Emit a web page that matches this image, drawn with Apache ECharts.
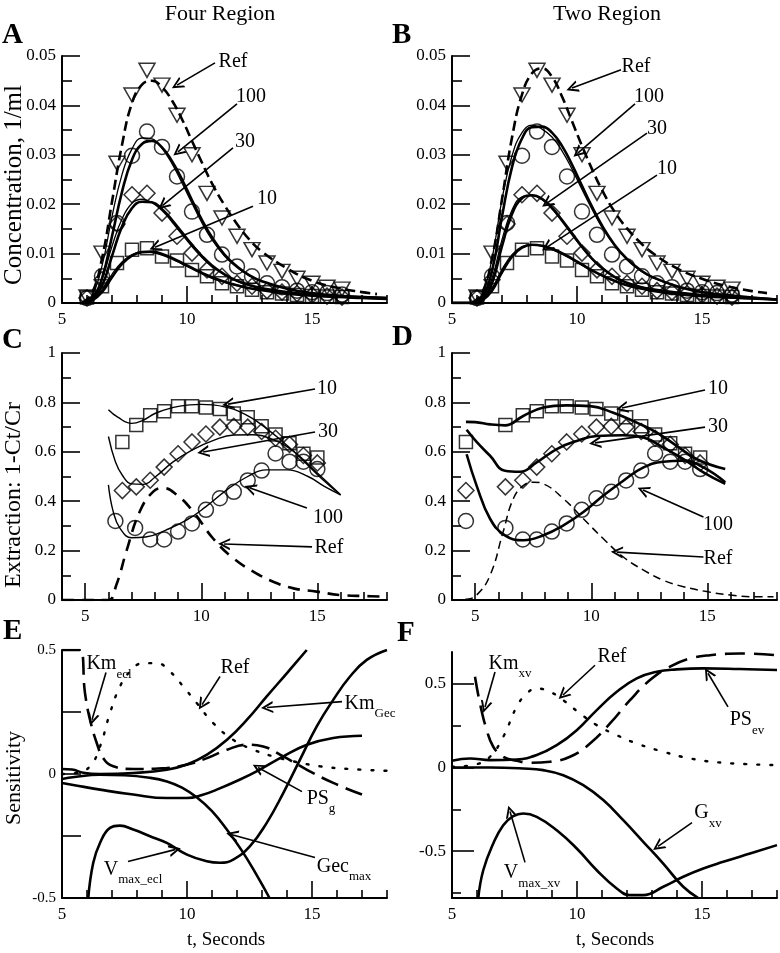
<!DOCTYPE html>
<html><head><meta charset="utf-8">
<script src="https://cdn.jsdelivr.net/npm/echarts@6/dist/echarts.min.js"></script>
<style>html,body{margin:0;padding:0;background:#fff}#c{width:780px;height:953px}</style>
</head><body><div id="c"></div>
<script>
// ===================== DATA =====================
// Panels A/B: measured concentrations (open markers)
const markerTimeAB = [6.0, 6.6, 7.2, 7.8, 8.4, 9.0, 9.6, 10.2, 10.8, 11.4, 12.0, 12.6, 13.2, 13.8, 14.4, 15.0, 15.6, 16.2];
const concRef = [0.0012, 0.0101, 0.0283, 0.0421, 0.0471, 0.0441, 0.038, 0.030, 0.0222, 0.0172, 0.0135, 0.0108, 0.0081, 0.0064, 0.005, 0.004, 0.0032, 0.0028];
const conc100 = [0.001, 0.0054, 0.0162, 0.0298, 0.0347, 0.0316, 0.0256, 0.0185, 0.0138, 0.0098, 0.0074, 0.0054, 0.004, 0.0032, 0.0025, 0.0022, 0.002, 0.0017];
const conc30 = [0.001, 0.0047, 0.016, 0.0219, 0.0222, 0.0182, 0.0135, 0.0101, 0.0067, 0.0054, 0.004, 0.0034, 0.0025, 0.0022, 0.0019, 0.0016, 0.0014, 0.0012];
const conc10 = [0.0011, 0.0034, 0.0081, 0.0108, 0.0111, 0.0094, 0.0086, 0.0067, 0.0054, 0.004, 0.0034, 0.0027, 0.0022, 0.0019, 0.0016, 0.0014, 0.0013, 0.0012];

// Panel A model curves (Four Region)
const tA = [5.8, 6.2, 6.6, 7.0, 7.4, 7.8, 8.2, 8.6, 9.0, 9.4, 9.8, 10.2, 10.6, 11.0, 11.5, 12.0, 12.5, 13.0, 14.0, 15.0, 16.0, 17.0, 18.0];
const tARef = [5.8, 6.2, 6.6, 7.0, 7.4, 7.8, 8.2, 8.6, 9.0, 9.4, 9.8, 10.2, 10.6, 11.0, 11.5, 12.0, 12.5, 13.0, 14.0, 15.0, 16.0, 17.0, 17.6];
const aRef = [0, 0.002, 0.009, 0.0205, 0.032, 0.0405, 0.0442, 0.045, 0.0437, 0.041, 0.0372, 0.0328, 0.0284, 0.0242, 0.0198, 0.016, 0.0128, 0.0104, 0.007, 0.0045, 0.0031, 0.0022, 0.0018];
const a100thick = [0, 0.001, 0.005, 0.0135, 0.0225, 0.029, 0.0322, 0.0328, 0.0315, 0.0287, 0.025, 0.0208, 0.0168, 0.0133, 0.0098, 0.0074, 0.0056, 0.0044, 0.0029, 0.002, 0.0015, 0.0012, 0.001];
const a100thin = [0, 0.0015, 0.0075, 0.0175, 0.026, 0.0312, 0.0334, 0.0332, 0.0313, 0.0282, 0.0243, 0.0202, 0.0162, 0.0128, 0.0095, 0.0072, 0.0055, 0.0043, 0.0029, 0.002, 0.0015, 0.0012, 0.001];
const a30thick = [0, 0.0008, 0.0035, 0.0095, 0.0155, 0.0192, 0.0205, 0.0204, 0.019, 0.0168, 0.0143, 0.0118, 0.0095, 0.0076, 0.0058, 0.0045, 0.0036, 0.003, 0.0022, 0.0017, 0.0014, 0.0012, 0.001];
const a30thin = [0, 0.001, 0.0048, 0.0115, 0.017, 0.0202, 0.021, 0.0203, 0.0187, 0.0164, 0.0139, 0.0114, 0.0092, 0.0074, 0.0057, 0.0044, 0.0036, 0.003, 0.0022, 0.0017, 0.0014, 0.0012, 0.001];
const a10thick = [0, 0.0005, 0.0022, 0.0052, 0.0079, 0.0096, 0.0103, 0.0104, 0.0099, 0.0091, 0.0081, 0.0071, 0.0061, 0.0052, 0.0043, 0.0036, 0.003, 0.0026, 0.0019, 0.0015, 0.0012, 0.001, 0.0008];
const a10thin = [0, 0.0006, 0.0027, 0.0058, 0.0083, 0.0098, 0.0104, 0.0102, 0.0097, 0.0089, 0.0079, 0.0069, 0.0059, 0.005, 0.0042, 0.0035, 0.003, 0.0026, 0.0019, 0.0015, 0.0012, 0.001, 0.0008];

// Panel B model curves (Two Region)
const tB = [5.0, 5.8, 6.2, 6.6, 7.0, 7.4, 7.8, 8.2, 8.6, 9.0, 9.4, 9.8, 10.2, 10.6, 11.0, 11.5, 12.0, 12.5, 13.0, 14.0, 15.0, 16.0, 17.0, 18.0];
const tBRef = [5.8, 6.2, 6.6, 7.0, 7.4, 7.8, 8.2, 8.6, 9.0, 9.4, 9.8, 10.2, 10.6, 11.0, 11.5, 12.0, 12.5, 13.0, 14.0, 15.0, 16.0, 17.0, 17.6];
const bRef = [0, 0.002, 0.009, 0.021, 0.0335, 0.0422, 0.0465, 0.0475, 0.0458, 0.0418, 0.0368, 0.0318, 0.0271, 0.0229, 0.0185, 0.0151, 0.0124, 0.0102, 0.007, 0.0049, 0.0034, 0.0024, 0.002];
const b100thick = [0, 0, 0.0012, 0.0065, 0.0175, 0.0275, 0.0333, 0.0356, 0.0357, 0.0345, 0.0318, 0.028, 0.0237, 0.0195, 0.0157, 0.0118, 0.0089, 0.0068, 0.0053, 0.0034, 0.0022, 0.0016, 0.0011, 0.0007];
const b100thin = [0, 0, 0.0018, 0.009, 0.021, 0.0298, 0.0345, 0.036, 0.0352, 0.0336, 0.0308, 0.0271, 0.023, 0.019, 0.0153, 0.0116, 0.0088, 0.0067, 0.0052, 0.0034, 0.0022, 0.0016, 0.0011, 0.0007];
const b30thick = [0, 0, 0.0008, 0.004, 0.0115, 0.018, 0.0212, 0.0218, 0.0211, 0.0193, 0.0168, 0.0141, 0.0114, 0.009, 0.0071, 0.0053, 0.0041, 0.0033, 0.0028, 0.0021, 0.0016, 0.0013, 0.001, 0.0007];
const b30thin = [0, 0, 0.001, 0.005, 0.0128, 0.0188, 0.0215, 0.0218, 0.0209, 0.019, 0.0165, 0.0138, 0.0112, 0.0089, 0.007, 0.0052, 0.004, 0.0033, 0.0028, 0.0021, 0.0016, 0.0013, 0.001, 0.0007];
const b10thick = [0, 0, 0.0005, 0.0025, 0.0062, 0.0094, 0.0112, 0.0118, 0.0116, 0.011, 0.0101, 0.009, 0.0078, 0.0066, 0.0056, 0.0045, 0.0036, 0.003, 0.0025, 0.0018, 0.0014, 0.0011, 0.0009, 0.0007];
const b10thin = [0, 0, 0.0006, 0.003, 0.0068, 0.0098, 0.0114, 0.0118, 0.0115, 0.0108, 0.0099, 0.0088, 0.0076, 0.0065, 0.0055, 0.0044, 0.0036, 0.003, 0.0025, 0.0018, 0.0014, 0.0011, 0.0009, 0.0007];

// Panels C/D: extraction (open markers)
const markerTimeC = [6.6, 7.2, 7.8, 8.4, 9.0, 9.6, 10.2, 10.8, 11.4, 12.0, 12.6, 13.2, 13.8, 14.4, 15.0];
const circleTimeC = [6.3, 7.15, 7.8, 8.4, 9.0, 9.6, 10.2, 10.8, 11.4, 12.0, 12.6, 13.2, 13.8, 14.4, 15.0];
const markerTimeD = [4.6, 6.3, 7.05, 7.65, 8.3, 8.94, 9.59, 10.22, 10.86, 11.5, 12.15, 12.75, 13.4, 14.04, 14.69];
const extr10 = [0.64, 0.708, 0.748, 0.764, 0.784, 0.784, 0.779, 0.773, 0.755, 0.74, 0.703, 0.67, 0.635, 0.592, 0.577];
const extr30 = [0.443, 0.458, 0.485, 0.538, 0.592, 0.64, 0.672, 0.70, 0.703, 0.70, 0.682, 0.655, 0.63, 0.585, 0.555];
const extr100 = [0.32, 0.292, 0.245, 0.245, 0.277, 0.31, 0.365, 0.412, 0.438, 0.484, 0.524, 0.593, 0.56, 0.56, 0.53];

// Panel C curves
const tC10 = [6.0, 6.4, 7.0, 7.5, 8.0, 8.8, 9.5, 10.0, 10.5, 11.1, 11.6, 12.2, 12.8, 13.4, 14.0, 14.6, 15.2, 16.0];
const c10 = [0.77, 0.74, 0.715, 0.728, 0.755, 0.78, 0.79, 0.792, 0.79, 0.78, 0.765, 0.735, 0.695, 0.65, 0.6, 0.545, 0.49, 0.425];
const tC30 = [6.0, 6.3, 6.6, 7.0, 7.5, 8.0, 8.8, 9.6, 10.5, 11.4, 12.2, 13.1, 14.0, 15.0, 16.0];
const c30 = [0.662, 0.56, 0.505, 0.47, 0.468, 0.497, 0.56, 0.607, 0.645, 0.668, 0.669, 0.649, 0.6, 0.514, 0.426];
const tC100 = [6.0, 6.2, 6.5, 7.0, 7.6, 8.5, 9.4, 10.2, 11.1, 12.0, 12.8, 13.7, 14.6, 15.3, 16.0];
const c100 = [0.466, 0.36, 0.29, 0.252, 0.255, 0.284, 0.325, 0.378, 0.446, 0.5, 0.527, 0.527, 0.5, 0.46, 0.426];
const tCRef = [4.0, 5.0, 6.0, 6.34, 6.77, 7.35, 7.93, 8.36, 8.94, 9.65, 10.5, 11.38, 12.24, 13.1, 13.97, 14.97, 16.0, 17.1, 18.0];
const cRef = [0, 0, 0, 0.061, 0.196, 0.358, 0.439, 0.453, 0.426, 0.358, 0.25, 0.169, 0.115, 0.074, 0.047, 0.034, 0.02, 0.016, 0.0135];

// Panel D curves
const tD10 = [4.6, 5.0, 5.64, 6.28, 7.07, 7.94, 8.94, 9.95, 10.95, 11.96, 12.82, 13.68, 14.55, 15.77];
const d10 = [0.721, 0.72, 0.711, 0.707, 0.745, 0.779, 0.788, 0.785, 0.758, 0.718, 0.678, 0.624, 0.57, 0.53];
const tD30 = [4.63, 5.06, 5.64, 6.28, 6.93, 7.65, 8.51, 9.37, 10.24, 11.38, 12.25, 13.1, 13.97, 14.83, 15.77];
const d30 = [0.689, 0.64, 0.584, 0.523, 0.519, 0.557, 0.611, 0.644, 0.664, 0.667, 0.658, 0.617, 0.57, 0.517, 0.47];
const tD100 = [4.63, 5.06, 5.64, 6.28, 7.07, 7.94, 8.8, 9.66, 10.52, 11.38, 12.25, 13.1, 13.97, 14.83, 15.77];
const d100 = [0.59, 0.463, 0.329, 0.262, 0.242, 0.262, 0.302, 0.356, 0.423, 0.483, 0.537, 0.56, 0.564, 0.537, 0.477];
const tDRef = [4.0, 4.63, 5.06, 5.64, 6.2, 6.64, 7.07, 7.5, 7.94, 8.8, 9.66, 10.52, 11.38, 12.25, 13.1, 13.97, 14.97, 15.98, 17.13, 17.85];
const dRef = [0, 0.003, 0.02, 0.1, 0.275, 0.41, 0.463, 0.477, 0.47, 0.41, 0.329, 0.248, 0.174, 0.121, 0.08, 0.054, 0.034, 0.02, 0.013, 0.013];

// Panel E sensitivities (Four Region)
const tEKm = [5.0, 5.72, 5.92, 6.12, 6.39, 6.65, 7.05, 7.85, 9.19, 10.0, 10.8, 11.6, 12.4, 13.05, 13.85, 14.8, 15.85, 17.0];
const eKmEcl = [0.5, 0.5, 0.326, 0.219, 0.125, 0.064, 0.031, 0.02, 0.024, 0.038, 0.064, 0.098, 0.118, 0.111, 0.071, 0.017, -0.036, -0.083];
const tERef = [5.0, 5.6, 6.12, 6.52, 6.92, 7.32, 7.72, 8.25, 8.79, 9.32, 9.85, 10.39, 11.05, 11.85, 12.65, 13.45, 14.25, 15.32, 16.52, 18.0];
const eRef = [0.0, 0.005, 0.031, 0.111, 0.246, 0.353, 0.413, 0.447, 0.447, 0.413, 0.353, 0.286, 0.205, 0.138, 0.098, 0.071, 0.051, 0.031, 0.02, 0.013];
const tEKmGec = [5.0, 5.4, 5.85, 6.52, 7.85, 9.19, 10.0, 10.8, 11.6, 12.4, 13.19, 14.0, 14.79];
const eKmGec = [0.02, 0.018, 0.005, 0.0, 0.004, 0.017, 0.038, 0.078, 0.138, 0.219, 0.313, 0.407, 0.5];
const tEPS = [5.0, 5.5, 6.52, 7.85, 9.19, 10.0, 10.6, 11.19, 12.1, 12.9, 13.85, 14.8, 15.85, 17.0];
const ePSg = [-0.036, -0.045, -0.063, -0.083, -0.097, -0.097, -0.085, -0.063, -0.023, 0.017, 0.071, 0.118, 0.145, 0.154];
const tEGec = [5.0, 5.5, 6.5, 7.5, 8.5, 9.2, 9.8, 10.4, 11.0, 11.6, 12.2, 12.8, 13.3];
const eGecMax = [-0.02, -0.012, -0.003, -0.005, -0.015, -0.03, -0.055, -0.095, -0.15, -0.225, -0.31, -0.41, -0.5];
const tEV = [6.05, 6.25, 6.52, 6.92, 7.32, 7.85, 8.52, 9.19, 10.0, 10.79, 11.32, 11.85, 12.52, 13.19, 13.85, 14.52, 15.19, 15.85, 16.52, 17.19, 18.0];
const eVmax = [-0.5, -0.358, -0.278, -0.217, -0.208, -0.224, -0.251, -0.278, -0.325, -0.352, -0.358, -0.345, -0.291, -0.197, -0.077, 0.058, 0.192, 0.299, 0.393, 0.46, 0.5];

// Panel F sensitivities (Two Region)
const tFKm = [5.92, 6.12, 6.39, 6.65, 7.05, 7.59, 8.12, 8.92, 9.72, 10.52, 11.32, 12.12, 12.92, 13.72, 14.52, 15.32, 16.52, 18.0];
const fKmXv = [0.542, 0.382, 0.223, 0.124, 0.064, 0.04, 0.028, 0.034, 0.064, 0.143, 0.263, 0.402, 0.522, 0.602, 0.651, 0.671, 0.681, 0.671];
const tFPS = [5.0, 5.72, 6.52, 7.59, 8.39, 9.19, 9.99, 10.79, 11.59, 12.39, 13.19, 13.99, 15.05, 16.52, 18.0];
const fPSev = [0.04, 0.054, 0.044, 0.048, 0.074, 0.133, 0.223, 0.343, 0.452, 0.532, 0.572, 0.586, 0.592, 0.588, 0.582];
const tFRef = [5.0, 5.99, 6.52, 7.05, 7.59, 7.99, 8.39, 8.92, 9.45, 10.12, 10.79, 11.59, 12.39, 13.45, 14.52, 15.85, 18.0];
const fRef = [0.004, 0.02, 0.064, 0.183, 0.363, 0.442, 0.472, 0.452, 0.402, 0.323, 0.253, 0.193, 0.143, 0.094, 0.054, 0.028, 0.014];
const tFG = [5.0, 6.52, 7.85, 8.65, 9.45, 10.25, 11.05, 11.85, 12.65, 13.45, 14.25, 14.85];
const fGxv = [0, 0, -0.006, -0.016, -0.046, -0.106, -0.195, -0.315, -0.444, -0.574, -0.713, -0.78];
const tFV = [6.05, 6.25, 6.65, 7.05, 7.45, 7.85, 8.39, 9.19, 9.99, 10.79, 11.59, 12.12, 12.65, 13.45, 14.25, 15.05, 15.85, 16.92, 18.0];
const fVmax = [-0.78, -0.614, -0.454, -0.345, -0.291, -0.275, -0.295, -0.375, -0.484, -0.614, -0.723, -0.763, -0.763, -0.713, -0.653, -0.604, -0.564, -0.514, -0.464];

// Tick values / labels
const ticksTimeMajor = [5, 10, 15];
const ticksTimeMinorAB = [6, 7, 8, 9, 11, 12, 13, 14, 16, 17, 18];
const ticksTimeMinorCD = [4, 6, 7, 8, 9, 11, 12, 13, 14, 16, 17, 18];
const ticksConcMajor = [0, 0.01, 0.02, 0.03, 0.04, 0.05];
const ticksConcMinor = [0.005, 0.015, 0.025, 0.035, 0.045];
const ticksExtrMajor = [0, 0.2, 0.4, 0.6, 0.8, 1];
const ticksExtrMinor = [0.1, 0.3, 0.5, 0.7, 0.9];
const ticksSensMajor = [-0.5, 0, 0.5];
const ticksSensMinorE = [-0.25, 0.25];
const ticksSensMinorF = [-0.75, -0.25, 0.25];

// Annotations (label text, label centre, arrow start, arrow tip) in data units
const annA = [
  {label: 'Ref', at: [11.84, 0.0488], from: [11.12, 0.0486], to: [9.6, 0.0441]},
  {label: '100', at: [12.56, 0.0417], from: [12.0, 0.0403], to: [9.64, 0.0306]},
  {label: '30', at: [12.32, 0.0326], from: [11.84, 0.0314], to: [9.04, 0.0198]},
  {label: '10', at: [13.2, 0.0212], from: [12.64, 0.0196], to: [8.72, 0.0113]}
];
const annB = [
  {label: 'Ref', at: [12.36, 0.0478], from: [11.76, 0.0472], to: [9.8, 0.0435]},
  {label: '100', at: [12.88, 0.0417], from: [12.32, 0.0403], to: [10.04, 0.0304]},
  {label: '30', at: [13.2, 0.0352], from: [12.8, 0.0344], to: [8.8, 0.0202]},
  {label: '10', at: [13.6, 0.0271], from: [13.2, 0.0259], to: [8.8, 0.0113]}
];
const annC = [
  {label: '10', at: [15.42, 0.854], from: [14.9, 0.854], to: [11.15, 0.793]},
  {label: '30', at: [15.46, 0.68], from: [14.9, 0.68], to: [10.08, 0.599]},
  {label: '100', at: [15.46, 0.332], from: [14.55, 0.372], to: [12.1, 0.453]},
  {label: 'Ref', at: [15.5, 0.21], from: [14.77, 0.215], to: [10.98, 0.227]}
];
const annD = [
  {label: '10', at: [15.46, 0.854], from: [14.9, 0.85], to: [11.32, 0.777]},
  {label: '30', at: [15.46, 0.7], from: [14.9, 0.7], to: [10.16, 0.636]},
  {label: '100', at: [15.46, 0.304], from: [14.83, 0.336], to: [12.23, 0.445]},
  {label: 'Ref', at: [15.46, 0.166], from: [14.83, 0.174], to: [11.1, 0.194]}
];
const annE = [
  {label: 'Km', sub: 'ecl', at: [6.88, 0.43], from: [6.76, 0.409], to: [6.2, 0.219]},
  {label: 'Ref', at: [11.92, 0.429], from: [11.32, 0.393], to: [10.6, 0.28]},
  {label: 'Km', sub: 'Gec', at: [17.32, 0.27], from: [16.2, 0.292], to: [13.2, 0.268]},
  {label: 'PS', sub: 'g', at: [15.36, -0.113], from: [14.6, -0.071], to: [12.84, 0.026]},
  {label: 'Gec', sub: 'max', at: [16.28, -0.387], from: [15.12, -0.337], to: [11.8, -0.245]},
  {label: 'V', sub: 'max_ecl', at: [7.84, -0.399], from: [7.64, -0.353], to: [9.52, -0.305]}
];
const annF = [
  {label: 'Km', sub: 'xv', at: [7.32, 0.6], from: [6.72, 0.57], to: [6.32, 0.361]},
  {label: 'Ref', at: [11.4, 0.659], from: [10.72, 0.611], to: [9.44, 0.433]},
  {label: 'PS', sub: 'ev', at: [16.8, 0.262], from: [16.04, 0.362], to: [15.24, 0.563]},
  {label: 'G', sub: 'xv', at: [15.24, -0.292], from: [14.6, -0.33], to: [13.24, -0.472]},
  {label: 'V', sub: 'max_xv', at: [8.2, -0.65], from: [7.92, -0.567], to: [7.32, -0.263]}
];

// ===================== CHART =====================
const FONT = 'Liberation Serif';
const BLACK = '#000';
const chart = echarts.init(document.getElementById('c'), null, {renderer: 'canvas'});

const panels = [
  {left: 62, top: 56, width: 325, height: 247, xmin: 5, xmax: 18, ymin: 0, ymax: 0.05,
   xMaj: ticksTimeMajor, xMin: ticksTimeMinorAB, yMaj: ticksConcMajor, yMin: ticksConcMinor, yLen: [18, 10], yFont: 17},
  {left: 452, top: 56, width: 325, height: 247, xmin: 5, xmax: 18, ymin: 0, ymax: 0.05,
   xMaj: ticksTimeMajor, xMin: ticksTimeMinorAB, yMaj: ticksConcMajor, yMin: ticksConcMinor, yLen: [18, 10], yFont: 17},
  {left: 62, top: 353, width: 325, height: 247, xmin: 4, xmax: 18, ymin: 0, ymax: 1,
   xMaj: ticksTimeMajor, xMin: ticksTimeMinorCD, yMaj: ticksExtrMajor, yMin: ticksExtrMinor, yLen: [18, 9], yFont: 17},
  {left: 452, top: 353, width: 325, height: 247, xmin: 4, xmax: 18, ymin: 0, ymax: 1,
   xMaj: ticksTimeMajor, xMin: ticksTimeMinorCD, yMaj: ticksExtrMajor, yMin: ticksExtrMinor, yLen: [18, 9], yFont: 17},
  {left: 62, top: 650, width: 325, height: 248, xmin: 5, xmax: 18, ymin: -0.5, ymax: 0.5,
   xMaj: ticksTimeMajor, xMin: ticksTimeMinorAB, yMaj: ticksSensMajor, yMin: ticksSensMinorE, yLen: [19, 19], yFont: 15},
  {left: 452, top: 652, width: 325, height: 246, xmin: 5, xmax: 18, ymin: -0.78, ymax: 0.69,
   xMaj: ticksTimeMajor, xMin: ticksTimeMinorAB, yMaj: ticksSensMajor, yMin: ticksSensMinorF, yLen: [22, 9], yFont: 17}
];

const grid = [], xAxis = [], yAxis = [];
panels.forEach((p, g) => {
  grid.push({left: p.left, top: p.top, width: p.width, height: p.height, containLabel: false});
  const tickStyle = {color: BLACK, width: 1.6};
  xAxis.push({gridIndex: g, type: 'value', min: p.xmin, max: p.xmax, position: 'bottom',
    axisLine: {show: true, onZero: false, lineStyle: {color: BLACK, width: 2}},
    axisTick: {show: true, inside: true, length: 17, customValues: p.xMaj, lineStyle: tickStyle},
    axisLabel: {show: true, customValues: p.xMaj, margin: 8, color: BLACK, fontFamily: FONT, fontSize: 17},
    splitLine: {show: false}});
  xAxis.push({gridIndex: g, type: 'value', min: p.xmin, max: p.xmax, position: 'bottom',
    axisLine: {show: false, onZero: false},
    axisTick: {show: true, inside: true, length: 8, customValues: p.xMin, lineStyle: tickStyle},
    axisLabel: {show: false}, splitLine: {show: false}});
  yAxis.push({gridIndex: g, type: 'value', min: p.ymin, max: p.ymax, position: 'left',
    axisLine: {show: true, onZero: false, lineStyle: {color: BLACK, width: 2}},
    axisTick: {show: true, inside: true, length: p.yLen[0], customValues: p.yMaj, lineStyle: tickStyle},
    axisLabel: {show: true, customValues: p.yMaj, margin: 6, color: BLACK, fontFamily: FONT, fontSize: p.yFont},
    splitLine: {show: false}});
  yAxis.push({gridIndex: g, type: 'value', min: p.ymin, max: p.ymax, position: 'left',
    axisLine: {show: false, onZero: false},
    axisTick: {show: true, inside: true, length: p.yLen[1], customValues: p.yMin, lineStyle: tickStyle},
    axisLabel: {show: false}, splitLine: {show: false}});
});

const zip = (t, v) => t.map((x, i) => [x, v[i]]);
const series = [];
function line(g, t, v, width, type, extra) {
  const s = {type: 'line', xAxisIndex: 2 * g, yAxisIndex: 2 * g, data: zip(t, v), symbol: 'none',
    smooth: 0.45, silent: true, clip: true,
    lineStyle: Object.assign({color: BLACK, width: width, type: type || 'solid'}, extra || {}), z: 3};
  series.push(s);
  return s;
}
function marks(g, t, v, symbol, size, rotate) {
  series.push({type: 'scatter', xAxisIndex: 2 * g, yAxisIndex: 2 * g, data: zip(t, v), symbol: symbol,
    symbolSize: size, symbolRotate: rotate || 0, silent: true, clip: false,
    itemStyle: {color: 'rgba(0,0,0,0)', borderColor: BLACK, borderWidth: 1.5}, z: 2});
}
const ARROW = 'path://M5,0L10,13L8.2,13L5,4.4L1.8,13L0,13Z';
function annotate(g, ann) {
  series.push({type: 'line', xAxisIndex: 2 * g, yAxisIndex: 2 * g, data: [], silent: true, symbol: 'none',
    markLine: {silent: true, animation: false, symbol: ['none', ARROW], symbolSize: 12,
      itemStyle: {color: BLACK}, label: {show: false},
      lineStyle: {color: BLACK, width: 1.6, type: 'solid'},
      data: ann.map(a => [{coord: a.from}, {coord: a.to}])},
    markPoint: {silent: true, animation: false, symbol: 'circle', symbolSize: 1,
      itemStyle: {color: 'rgba(0,0,0,0)'},
      label: {show: true, position: 'inside', color: BLACK, fontFamily: FONT,
        rich: {m: {fontSize: 20, fontFamily: FONT, color: BLACK, verticalAlign: 'top'},
               s: {fontSize: 13, fontFamily: FONT, color: BLACK, verticalAlign: 'top', padding: [14, 0, 0, 0]}}},
      data: ann.map(a => ({coord: a.at, value: 0,
        label: {formatter: a.sub ? '{m|' + a.label + '}{s|' + a.sub + '}' : '{m|' + a.label + '}'}}))}
  });
}

// Panel A
line(0, tARef, aRef, 2.6, [10, 5]);
line(0, tA, a100thick, 2.6); line(0, tA, a100thin, 1.3);
line(0, tA, a30thick, 2.6); line(0, tA, a30thin, 1.3);
line(0, tA, a10thick, 2.6); line(0, tA, a10thin, 1.3);
marks(0, markerTimeAB, concRef, 'triangle', [16, 14], 180);
marks(0, markerTimeAB, conc100, 'circle', 15);
marks(0, markerTimeAB, conc30, 'diamond', 16);
marks(0, markerTimeAB, conc10, 'rect', 13);
annotate(0, annA);
// Panel B
line(1, tBRef, bRef, 2.6, [10, 5]);
line(1, tB, b100thick, 2.6); line(1, tB, b100thin, 1.3);
line(1, tB, b30thick, 2.6); line(1, tB, b30thin, 1.3);
line(1, tB, b10thick, 2.6); line(1, tB, b10thin, 1.3);
marks(1, markerTimeAB, concRef, 'triangle', [16, 14], 180);
marks(1, markerTimeAB, conc100, 'circle', 15);
marks(1, markerTimeAB, conc30, 'diamond', 16);
marks(1, markerTimeAB, conc10, 'rect', 13);
annotate(1, annB);
// Panel C
line(2, tCRef, cRef, 2.6, [12, 8]);
line(2, tC10, c10, 1.4); line(2, tC30, c30, 1.4); line(2, tC100, c100, 1.4);
marks(2, markerTimeC, extr10, 'rect', 13);
marks(2, markerTimeC, extr30, 'diamond', 16);
marks(2, circleTimeC, extr100, 'circle', 15);
annotate(2, annC);
// Panel D
line(3, tDRef, dRef, 1.5, [8, 5]);
line(3, tD10, d10, 2.6); line(3, tD30, d30, 2.6); line(3, tD100, d100, 2.6);
marks(3, markerTimeD, extr10, 'rect', 13);
marks(3, markerTimeD, extr30, 'diamond', 16);
marks(3, markerTimeD, extr100, 'circle', 15);
annotate(3, annD);
// Panel E
line(4, tEKm, eKmEcl, 2.6, [18, 8]);
line(4, tERef, eRef, 2.4, [2, 11], {cap: 'round'});
line(4, tEKmGec, eKmGec, 2.6);
line(4, tEPS, ePSg, 2.6);
line(4, tEGec, eGecMax, 2.6);
line(4, tEV, eVmax, 2.6);
annotate(4, annE);
// Panel F
line(5, tFKm, fKmXv, 2.6, [20, 9]);
line(5, tFRef, fRef, 2.4, [2, 11], {cap: 'round'});
line(5, tFPS, fPSev, 2.6);
line(5, tFG, fGxv, 2.6);
line(5, tFV, fVmax, 2.6);
annotate(5, annF);

const txt = (text, x, y, size, opts) => Object.assign({type: 'text', x: x, y: y, silent: true,
  style: {text: text, fill: BLACK, font: (opts && opts.weight ? opts.weight + ' ' : '') + size + 'px "' + FONT + '"',
    align: (opts && opts.align) || 'center', verticalAlign: 'middle'}}, (opts && opts.rot) ? {rotation: opts.rot} : {});

const graphic = [
  txt('Four Region', 220, 14, 22),
  txt('Two Region', 607, 14, 22),
  txt('A', 2, 36, 29, {weight: 'bold', align: 'left'}),
  txt('B', 392, 36, 29, {weight: 'bold', align: 'left'}),
  txt('C', 2, 341, 29, {weight: 'bold', align: 'left'}),
  txt('D', 392, 338, 29, {weight: 'bold', align: 'left'}),
  txt('E', 3, 632, 29, {weight: 'bold', align: 'left'}),
  txt('F', 397, 634, 29, {weight: 'bold', align: 'left'}),
  txt('Concentration, 1/ml', 14, 185, 25, {rot: Math.PI / 2}),
  txt('Extraction: 1-Ct/Cr', 14, 495, 24, {rot: Math.PI / 2}),
  txt('Sensitivity', 14, 778, 22, {rot: Math.PI / 2}),
  txt('t, Seconds', 226, 940, 19),
  txt('t, Seconds', 615, 940, 19)
];

chart.setOption({animation: false, backgroundColor: '#fff', grid, xAxis, yAxis, series, graphic});
</script></body></html>
